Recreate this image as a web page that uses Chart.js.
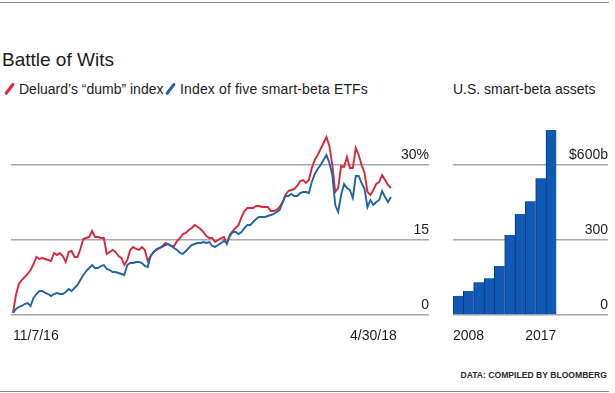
<!DOCTYPE html>
<html>
<head>
<meta charset="utf-8">
<script src="https://cdn.jsdelivr.net/npm/chart.js@4.4.1/dist/chart.umd.min.js"></script>
<style>
  body { margin: 0; width: 615px; height: 393px; position: relative; overflow: hidden; background: #fff;
         font-family: "Liberation Sans", Arial, sans-serif; color: #1c1c1c; }
  .rule { position: absolute; left: 0; width: 609px; height: 1px; background: #8c8c8c; }
  .txt { position: absolute; white-space: nowrap; line-height: 1; }
  #title { left: 2px; top: 50px; font-size: 19px; }
  .legend { top: 82px; font-size: 14px; }
  .slash { position: absolute; top: 82px; width: 3.4px; height: 14px; border-radius: 2px; transform: rotate(38deg); }
  #footer { right: 8px; top: 371px; font-size: 8.6px; font-weight: bold; color: #2a2a2a; }
  canvas { position: absolute; }
</style>
</head>
<body>
<div class="rule" style="top:2px"></div>
<div class="txt" id="title">Battle of Wits</div>
<span class="slash" style="left:8px;background:#d7283b"></span>
<div class="txt legend" style="left:19px">Deluard’s “dumb” index</div>
<span class="slash" style="left:169px;background:#1f65a6"></span>
<div class="txt legend" style="left:180px;letter-spacing:0.15px">Index of five smart-beta ETFs</div>
<div class="txt legend" style="left:453px">U.S. smart-beta assets</div>

<canvas id="lineChart" width="429" height="235" style="left:0;top:110px"></canvas>
<canvas id="barChart" width="175" height="235" style="left:440px;top:110px"></canvas>

<div class="txt" id="footer">DATA: COMPILED BY BLOOMBERG</div>
<div class="rule" style="top:391px"></div>

<script>
// cumulative return, %, sampled roughly every third trading day from 11/7/16 to 4/30/18
const dumbIndex = [
  0.4, 4, 6.2, 7, 7.6, 8.2, 9, 10.2, 11.6, 11.2, 11.4, 11.2, 11, 10.8, 12.4, 12, 12.4, 11.8, 10.6, 12.6,
  12.8, 11.6, 11.6, 13.2, 15.2, 15.4, 15.6, 16.8, 15.6, 15.6, 15.4, 15.4, 12.2, 12.6, 13, 12.6, 11.8, 11.4, 10, 11,
  13, 13.6, 13.2, 13, 13.6, 13, 10.8, 11.8, 12.6, 13, 13.4, 13.8, 14.4, 14.2, 13.8, 13.8, 14.8, 15.4, 16.2, 16.4,
  17, 17.4, 18, 17.6, 17.2, 16.6, 15.8, 15.4, 15.4, 14.6, 15, 15.4, 15.6, 14.2, 16, 16.8, 17.4, 18, 19.6, 20.8,
  21.4, 21.4, 21.4, 21.8, 21.8, 21.6, 21.6, 21.6, 20.8, 20.8, 21, 21.6, 22.6, 24, 24.8, 25, 25.2, 25.8, 26.8, 27,
  26.4, 27, 29.4, 31, 32, 33.2, 34.4, 35.6, 33.8, 30, 24.6, 25.4, 29.8, 29.6, 31.6, 29.4, 29.4, 33.4, 32, 30,
  28.4, 24.6, 24, 25, 26.2, 26.6, 28, 27, 26, 25.4
];
const smartBeta = [
  0.4, 1.2, 1.6, 1.8, 2.2, 2.4, 1.8, 3.4, 4.2, 4.8, 4.8, 4.4, 4.2, 3.8, 4.2, 4.4, 4.2, 4.2, 4.6, 5.2,
  4.8, 5.4, 6, 7, 8, 8.8, 9.4, 10, 9.4, 9.4, 9.8, 10, 9.2, 9, 8.6, 8.6, 8.4, 8.2, 8, 10,
  10.4, 10.4, 10.6, 10.6, 10.4, 9.8, 9.6, 11.8, 12.6, 13.2, 13.4, 13.6, 14, 14.2, 13.8, 13.4, 13, 12.4, 12.2, 12.8,
  13.4, 14, 14.2, 14.4, 14.4, 14.6, 14.4, 14.6, 13.8, 13.6, 14, 14.4, 14.8, 14.4, 15.8, 16.6, 16.6, 16.2, 16.6, 17.4,
  18, 18, 18.6, 19.2, 19.6, 19.6, 19.6, 19.8, 20, 20.2, 20.6, 21, 22.4, 23.8, 23.8, 24.2, 23.8, 23.8, 24.4, 24.6,
  24.6, 24.4, 26.6, 28.2, 29.2, 30, 31, 32, 30.4, 28, 22, 20.6, 24, 26.2, 25.4, 25, 23.4, 27.8, 27.8, 26.4,
  25.2, 21.6, 23, 22, 22.6, 23, 24.8, 23.6, 22.6, 23.6
];
const dateLabels = ['11/7/16', '4/30/18'];
const pctTicks = [0, 15, 30];

// U.S. smart-beta assets, $ billions
const years = [2008, 2009, 2010, 2011, 2012, 2013, 2014, 2015, 2016, 2017];
const assets = [76, 96, 131, 147, 196, 320, 404, 455, 547, 740];
const yearLabels = ['2008', '2017'];
const assetTicks = [0, 300, 600];

const RED = '#d7283b';
const BLUE = '#1f65a6';
const GRID = '#a9a9a9';
const FONT = { family: '"Liberation Sans", Arial, sans-serif', size: 14 };

const lastIdx = dumbIndex.length - 1;

// keep the plot area where it is: no extra room for the mirrored labels
const flatY = s => { s.width = 0; s.paddingTop = 0; s.paddingBottom = 0; };

new Chart(document.getElementById('lineChart'), {
  type: 'line',
  data: {
    datasets: [
      {
        label: 'Index of five smart-beta ETFs',
        data: smartBeta.map((v, i) => ({ x: i, y: v })),
        borderColor: BLUE, borderWidth: 1.9, pointRadius: 0, tension: 0, order: 0
      },
      {
        label: 'Deluard’s “dumb” index',
        data: dumbIndex.map((v, i) => ({ x: i, y: v })),
        borderColor: RED, borderWidth: 1.9, pointRadius: 0, tension: 0, order: 1
      }
    ]
  },
  options: {
    responsive: false,
    animation: false,
    events: [],
    layout: { padding: 0 },
    plugins: { legend: { display: false }, tooltip: { enabled: false } },
    scales: {
      x: {
        type: 'linear',
        min: -0.67,
        max: lastIdx + 13,
        grid: { display: false, drawTicks: false },
        border: { display: false },
        afterBuildTicks: s => { s.ticks = [{ value: 0 }, { value: lastIdx + 2 }]; },
        afterFit: s => { s.height = 30; },
        ticks: {
          align: 'inner', padding: 13, maxRotation: 0, autoSkip: false,
          color: '#1c1c1c', font: FONT,
          callback: (v, i) => dateLabels[i]
        }
      },
      y: {
        position: 'right',
        min: 0,
        max: 41,
        afterBuildTicks: s => { s.ticks = pctTicks.map(v => ({ value: v })); },
        afterFit: flatY,
        grid: { color: GRID, lineWidth: 1.5, drawTicks: false },
        border: { display: false },
        ticks: {
          mirror: true, padding: 0, labelOffset: -10,
          color: '#1c1c1c', font: FONT,
          callback: v => v === 30 ? '30%' : String(v)
        }
      }
    }
  }
});

new Chart(document.getElementById('barChart'), {
  type: 'bar',
  data: {
    datasets: [{
      label: 'U.S. smart-beta assets',
      data: years.map((y, i) => ({ x: y, y: assets[i] })),
      backgroundColor: '#1059b4',
      borderColor: '#0a3a78',
      borderWidth: { left: 1, right: 0, top: 0, bottom: 0 },
      barPercentage: 1,
      categoryPercentage: 1
    }]
  },
  options: {
    responsive: false,
    animation: false,
    events: [],
    layout: { padding: { left: 12, right: 7, top: 0, bottom: 0 } },
    plugins: { legend: { display: false }, tooltip: { enabled: false } },
    scales: {
      x: {
        type: 'linear',
        offset: false,
        min: 2007.5,
        max: 2022.5,
        grid: { display: false, drawTicks: false },
        border: { display: false },
        afterBuildTicks: s => { s.ticks = [{ value: 2007.5 }, { value: 2017.5 }]; },
        afterFit: s => { s.height = 30; },
        ticks: {
          align: 'inner', padding: 13, maxRotation: 0, autoSkip: false,
          color: '#1c1c1c', font: FONT,
          callback: (v, i) => yearLabels[i]
        }
      },
      y: {
        position: 'right',
        min: 0,
        max: 820,
        afterBuildTicks: s => { s.ticks = assetTicks.map(v => ({ value: v })); },
        afterFit: flatY,
        grid: { color: GRID, lineWidth: 1.5, drawTicks: false },
        border: { display: false },
        ticks: {
          mirror: true, padding: 0, labelOffset: -10,
          color: '#1c1c1c', font: FONT,
          callback: v => v === 600 ? '$600b' : String(v)
        }
      }
    }
  }
});
</script>
</body>
</html>
